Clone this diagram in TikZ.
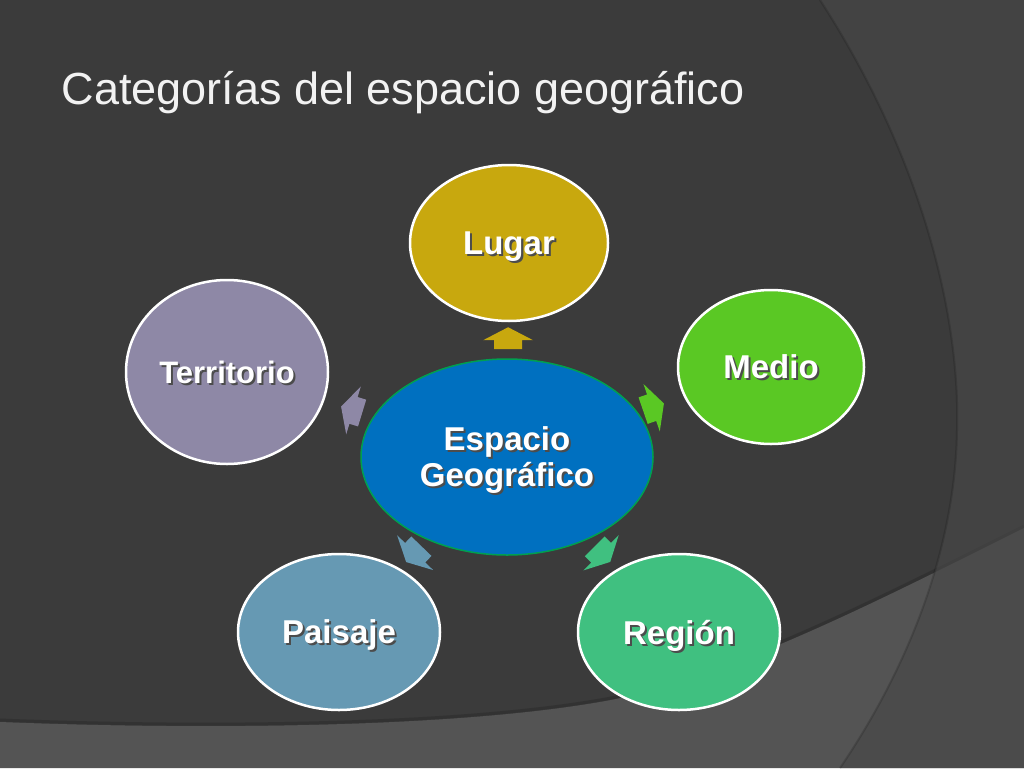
\documentclass[tikz,border=0pt]{standalone}
\usepackage{fontspec}
\setmainfont{Liberation Sans}
\usepackage{xcolor}
\usepackage{tikz}
\usetikzlibrary{shapes.geometric, calc}

\definecolor{fondo}{RGB}{59,59,59}
\definecolor{banda}{RGB}{84,84,84}
\definecolor{capa}{RGB}{72,72,72}
\definecolor{titulo}{RGB}{242,242,242}
\definecolor{lugarc}{RGB}{200,168,14}
\definecolor{medioc}{RGB}{90,200,36}
\definecolor{terrc}{RGB}{142,136,166}
\definecolor{paisc}{RGB}{102,153,179}
\definecolor{regc}{RGB}{64,192,128}
\definecolor{geoc}{RGB}{0,112,192}
\definecolor{geoborde}{RGB}{0,160,80}

\newcommand{\sombra}[1]{\rlap{\kern2pt\raisebox{-2pt}{\textcolor{black!70}{#1}}}#1}

\begin{document}
\begin{tikzpicture}[x=1pt, y=-1pt, cat/.style={ellipse, draw=white, line width=2.5pt, inner sep=0pt, align=center, text=white, text depth=0pt, font=\fontsize{33}{36}\selectfont\bfseries}, pics/flecha/.style={code={\fill[#1] (11,0) -- (-2,25) -- (-2,14) -- (-11,14) -- (-11,-14) -- (-2,-14) -- (-2,-25) -- cycle;}}]
\useasboundingbox (0,0) rectangle (1024,768);
% fondo
\fill[fondo] (0,0) rectangle (1024,768);
\fill[banda] (0,722) .. controls (200,730) and (450,728) .. (600,702) .. controls (720,682) and (880,600) .. (1024,528) -- (1024,768) -- (0,768) -- cycle;
\draw[black, opacity=0.15, line width=3pt] (0,720) .. controls (200,728) and (450,726) .. (600,700) .. controls (720,680) and (880,598) .. (1024,526);
\fill[capa, opacity=0.68] (820,0) .. controls (930,170) and (960,330) .. (957,430) .. controls (955,560) and (900,680) .. (840,768) -- (1024,768) -- (1024,0) -- cycle;
\draw[black, opacity=0.15, line width=2pt] (820,0) .. controls (930,170) and (960,330) .. (957,430) .. controls (955,560) and (900,680) .. (840,768);

\node[anchor=base west, text=titulo, font=\fontsize{45}{54}\selectfont] (titulo) at (58,104) {Categorías del espacio geográfico};

\node[cat, fill=geoc, draw=geoborde, line width=1.5pt, minimum width=292pt, minimum height=196pt] (geo) at (507,457) {\sombra{Espacio}\\\sombra{Geográfico}};
\node[cat, fill=lugarc, minimum width=198pt, minimum height=156pt] (lugar) at (509,243) {\sombra{Lugar}};
\node[cat, fill=medioc, minimum width=186pt, minimum height=154pt] (medio) at (771,367) {\sombra{Medio}};
\node[cat, fill=terrc, minimum width=202pt, minimum height=184pt, font=\fontsize{31}{36}\selectfont\bfseries] (territorio) at (227,372) {\sombra{Territorio}};
\node[cat, fill=paisc, minimum width=202pt, minimum height=156pt] (paisaje) at (339,632) {\sombra{Paisaje}};
\node[cat, fill=regc, minimum width=202pt, minimum height=156pt] (region) at (679,632) {\sombra{Región}};

% flechas
\foreach \n/\a/\c in {lugar/90/lugarc, medio/19/medioc, territorio/163/terrc, paisaje/226/paisc, region/-45/regc}
  \pic[rotate=\a] at ($(geo.center)!0.555!(\n.center)$) {flecha=\c};
\end{tikzpicture}
\end{document}
